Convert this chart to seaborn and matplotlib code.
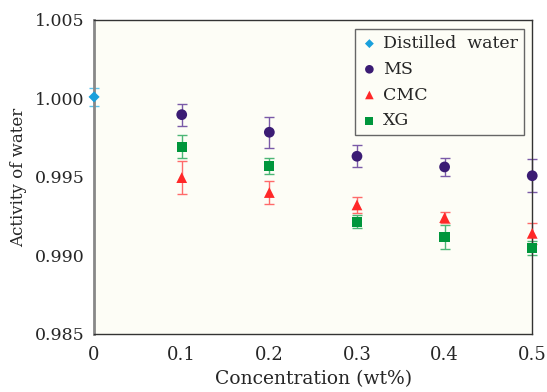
import numpy as np
import pandas as pd
import seaborn as sns
import matplotlib.pyplot as plt

# Data
dw_x = [0.0]
dw_y = [1.0001]
dw_err = [0.0006]

conc = [0.1, 0.2, 0.3, 0.4, 0.5]
ms_y = [0.99897, 0.99785, 0.99632, 0.99564, 0.99508]
ms_err = [0.0007, 0.0010, 0.0007, 0.0006, 0.00105]
cmc_y = [0.99496, 0.99401, 0.99322, 0.99241, 0.99141]
cmc_err = [0.00106, 0.00075, 0.0005, 0.00036, 0.00066]
xg_y = [0.99693, 0.99572, 0.99215, 0.99116, 0.99046]
xg_err = [0.00075, 0.0005, 0.0004, 0.00075, 0.00045]

x_ticks = [0, 0.1, 0.2, 0.3, 0.4, 0.5]
x_tick_labels = ["0", "0.1", "0.2", "0.3", "0.4", "0.5"]
y_ticks = [0.985, 0.990, 0.995, 1.000, 1.005]

sns.set_style("white")
plt.rcParams["font.family"] = ["DejaVu Serif"]

fig, ax = plt.subplots(figsize=(5.47, 3.92), dpi=100)
fig.subplots_adjust(left=0.172, right=0.973, top=0.949, bottom=0.148)
ax.set_facecolor("#fdfdf6")

series = [
    ("Distilled  water", dw_x, dw_y, dw_err, "#1aa0dc", "#5cc3ec", "D", 32),
    ("MS", conc, ms_y, ms_err, "#3b1c74", "#7a5aa8", "o", 60),
    ("CMC", conc, cmc_y, cmc_err, "#ff2828", "#ff6a6a", "^", 60),
    ("XG", conc, xg_y, xg_err, "#00963c", "#4cb676", "s", 55),
]

for name, xs, ys, errs, col, ecol, mk, sz in series:
    ax.errorbar(xs, ys, yerr=errs, fmt="none", ecolor=ecol, elinewidth=1.0,
                capsize=3.6, capthick=1.0, zorder=2, clip_on=False)
    df = pd.DataFrame({"x": xs, "y": ys})
    sns.scatterplot(data=df, x="x", y="y", ax=ax, color=col, marker=mk, s=sz,
                    edgecolor="none", label=name, zorder=3, clip_on=False)

ax.set_xlim(0, 0.5)
ax.set_ylim(0.985, 1.005)
ax.set_xticks(x_ticks)
ax.set_xticklabels(x_tick_labels)
ax.set_yticks(y_ticks)
ax.set_yticklabels([f"{v:.3f}" for v in y_ticks])
ax.tick_params(axis="x", direction="in", length=11, width=0.8, color="#444444",
               labelsize=13, pad=9)
ax.tick_params(axis="y", direction="in", length=7, width=0.8, color="#444444",
               labelsize=12.5, pad=7)
ax.set_xlabel("Concentration (wt%)", fontsize=13.5, labelpad=4)
ax.set_ylabel("Activity of water", fontsize=12, labelpad=5)

for side in ["top", "right", "bottom"]:
    ax.spines[side].set_color("#333333")
    ax.spines[side].set_linewidth(1.0)
ax.spines["left"].set_color("#888888")
ax.spines["left"].set_linewidth(2.0)

leg = ax.legend(loc="upper right", fontsize=12.5, frameon=True, fancybox=False,
                borderpad=0.35, handletextpad=0.35, labelspacing=0.5,
                handlelength=0.9, markerscale=0.8, borderaxespad=0,
                bbox_to_anchor=(0.982, 0.971))
leg.get_frame().set_edgecolor("#666666")
leg.get_frame().set_linewidth(1.0)
leg.get_frame().set_facecolor("#fdfdf6")
leg.get_frame().set_alpha(1)

fig.savefig("out.png", dpi=100)
